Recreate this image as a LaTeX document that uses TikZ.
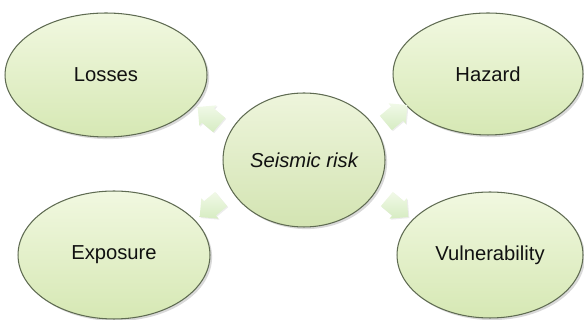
\documentclass[tikz,border=0pt]{standalone}
\usepackage{fontspec}
\setmainfont{Liberation Sans}
\usepackage{xcolor}
\usepackage{tikz}
\usetikzlibrary{calc,shapes.geometric,shapes.arrows,shadows}
\definecolor{ringtop}{HTML}{F1F8E0}
\definecolor{ringbot}{HTML}{D6E8B4}
\definecolor{hubtop}{HTML}{EEF5DC}
\definecolor{hubbot}{HTML}{D3E4B2}
\definecolor{rim}{HTML}{5F6B52}
\definecolor{arrtop}{HTML}{F1F9E8}
\definecolor{arrbot}{HTML}{D6ECC2}
\definecolor{ink}{HTML}{111111}
\tikzset{
  blob/.style={ellipse, draw=rim, line width=0.6pt, inner sep=0pt,
    top color=ringtop, bottom color=ringbot, text=ink,
    font=\fontsize{11.5}{13}\selectfont,
    drop shadow={shadow xshift=1.2pt, shadow yshift=-1.2pt, opacity=0.25, fill=black!60}},
  hub/.style={blob, top color=hubtop, bottom color=hubbot, font=\fontsize{11.5}{13}\selectfont\itshape},
  fatarrow/.style={single arrow, draw=none, inner sep=0.18cm, minimum height=0.52cm,
    single arrow head extend=0.08cm,
    top color=arrtop, bottom color=arrbot, shading angle=0,
    drop shadow={shadow xshift=0.6pt, shadow yshift=-0.6pt, opacity=0.12, fill=black!60}},
}
\begin{document}
\begin{tikzpicture}[x=0.02cm, y=0.02cm]
  \useasboundingbox (0,0) rectangle (584,320);
  % outer ellipses
  \node[blob, minimum width=4.04cm, minimum height=2.48cm] (loss) at (106,245) {Losses};
  \node[blob, minimum width=3.80cm, minimum height=2.44cm] (haz)  at (488,246) {Hazard};
  \node[blob, minimum width=3.84cm, minimum height=2.56cm] (expo) at (114,65)  {Exposure};
  \node[blob, minimum width=3.72cm, minimum height=2.52cm] (vuln) at (490,65)  {Vulnerability};
  % centre
  \node[hub, minimum width=3.24cm, minimum height=2.68cm] (risk) at (304,160) {Seismic risk};
  % block arrows
  \node[fatarrow, rotate=140] (toloss) at (212,201) {};
  \node[fatarrow, rotate=40]  (tohaz)  at (393,203) {};
  \node[fatarrow, rotate=220] (toexpo) at (214,115) {};
  \node[fatarrow, rotate=-40] (tovuln) at (394,115) {};
\end{tikzpicture}
\end{document}
